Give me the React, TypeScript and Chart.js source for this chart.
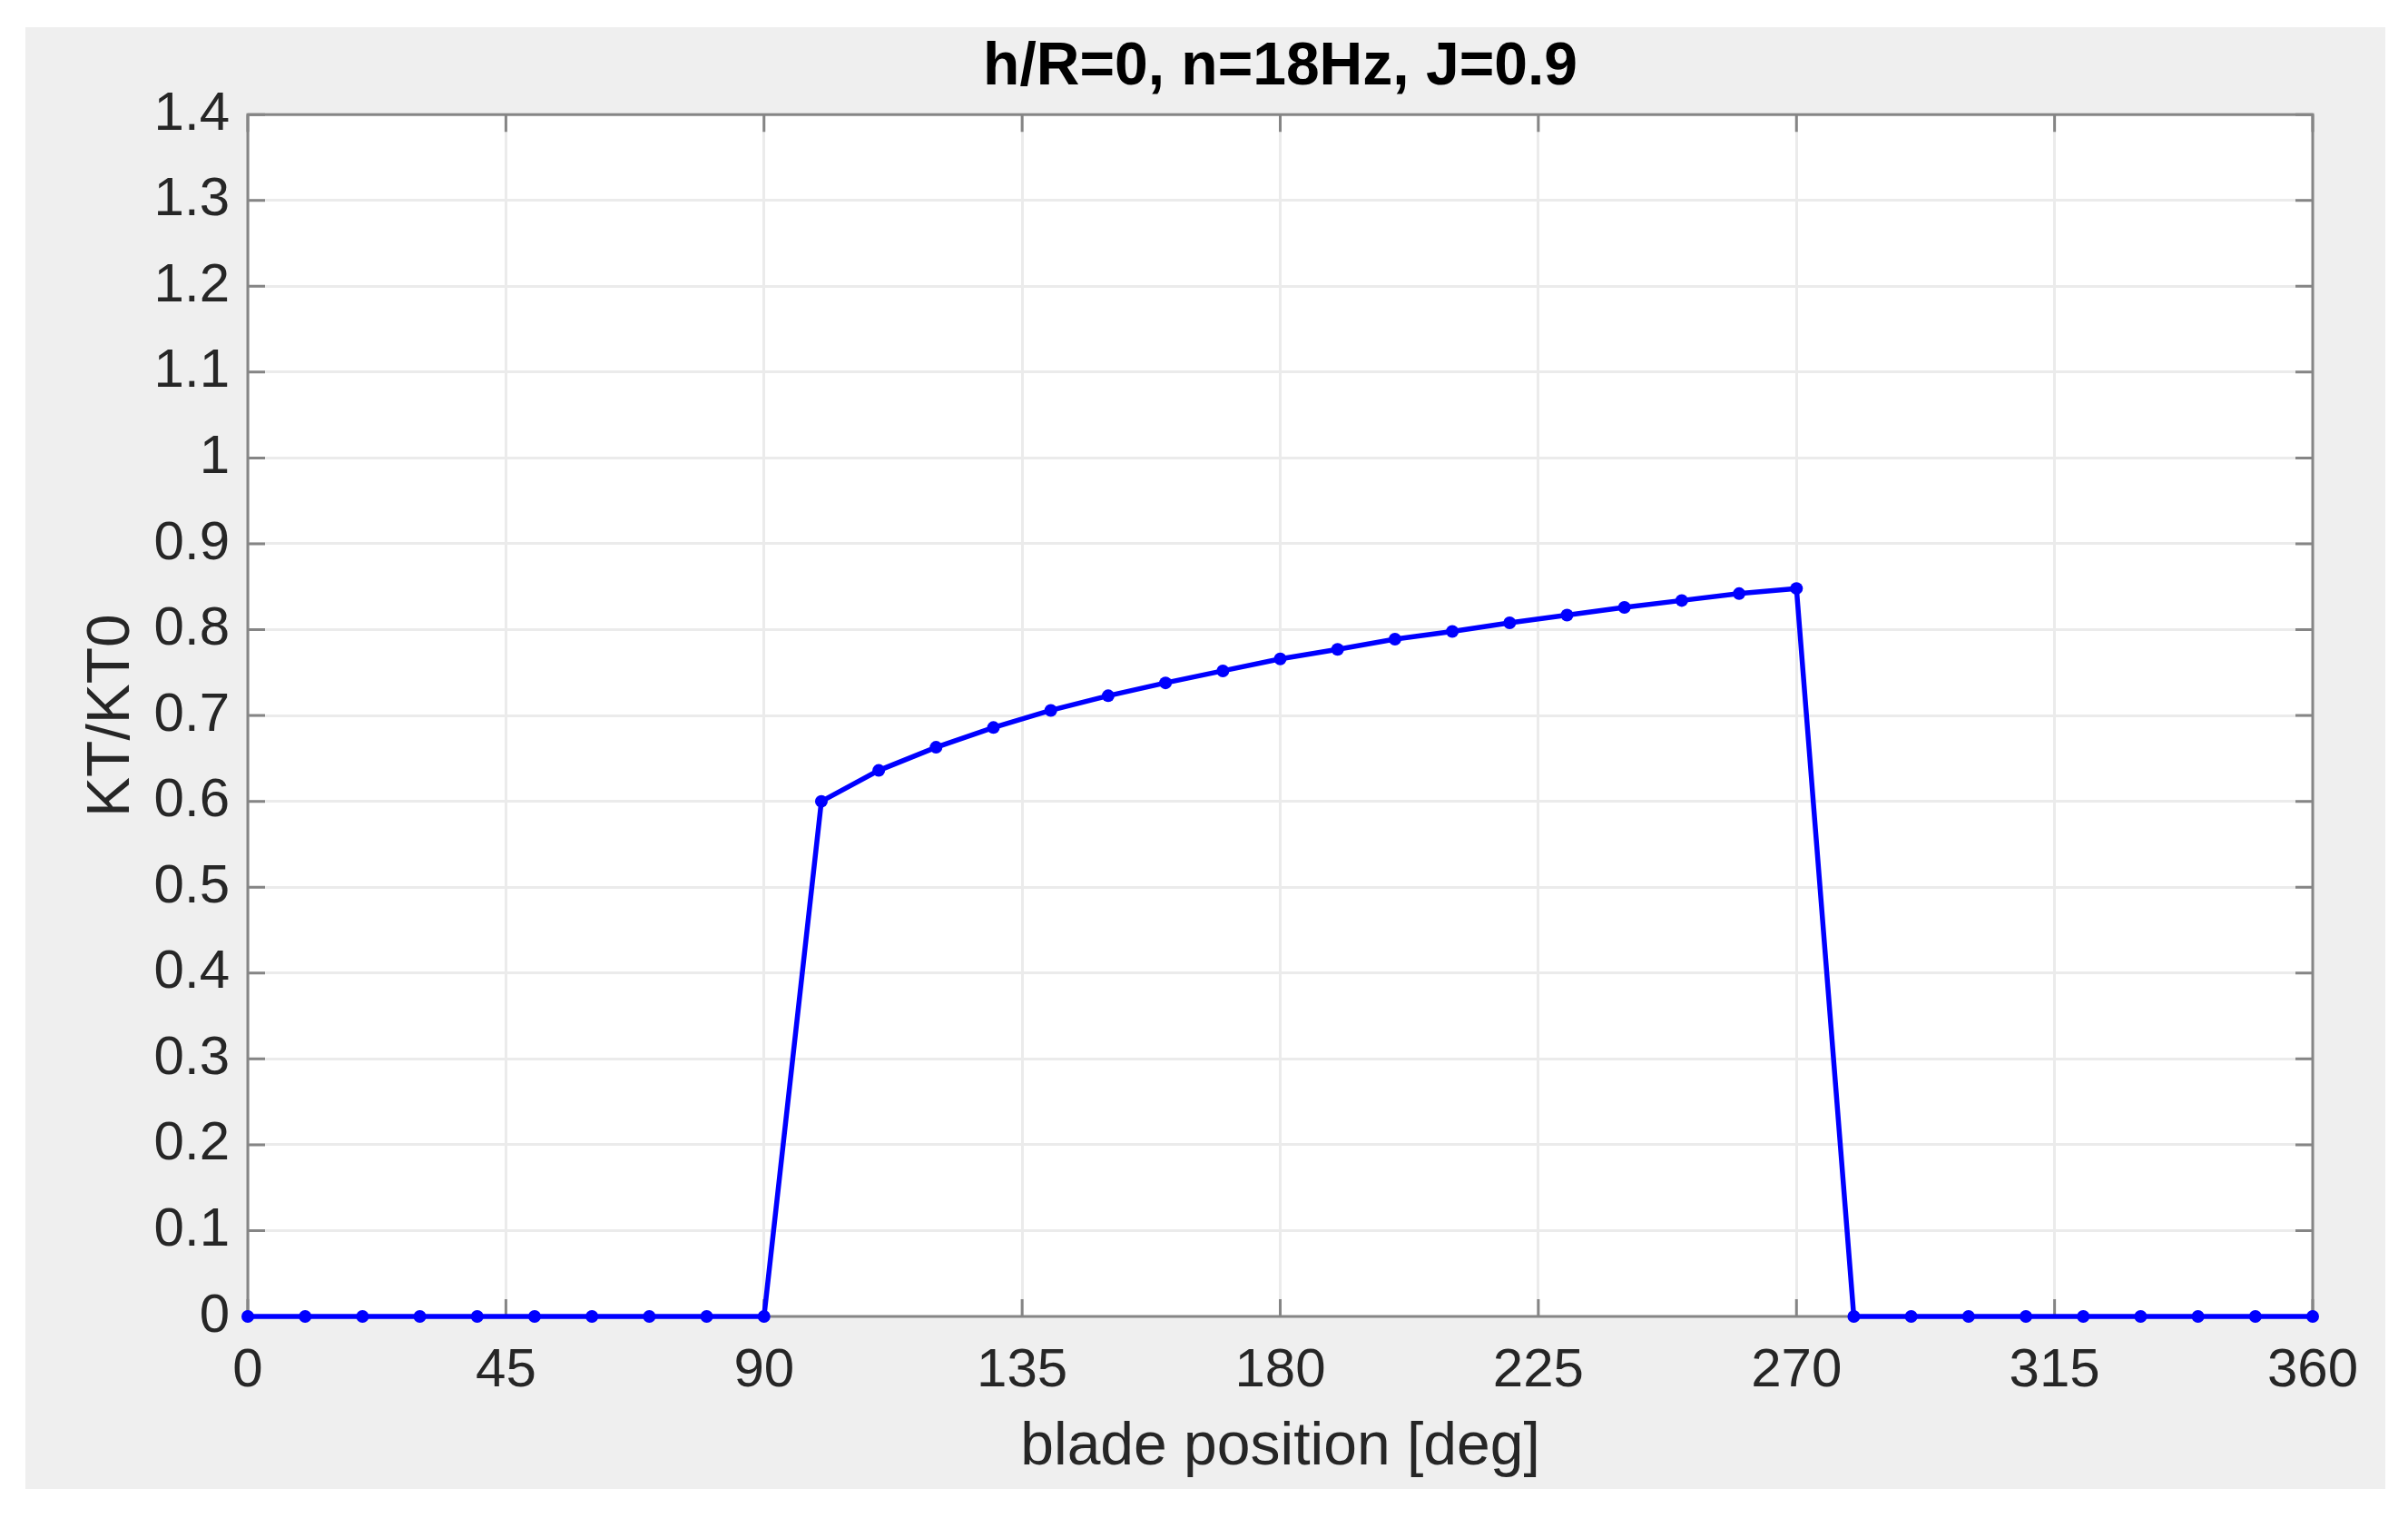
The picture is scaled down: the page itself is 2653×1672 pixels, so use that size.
import React, { useEffect, useRef } from "react";
import { Chart, registerables } from "chart.js";

Chart.register(...registerables);

// ---- data ----
const chartTitle = "h/R=0, n=18Hz, J=0.9";
const xAxisTitle = "blade position [deg]";
const yAxisTitle = "KT/KT0";

const bladePositionDeg = [
  0, 10, 20, 30, 40, 50, 60, 70, 80, 90,
  100, 110, 120, 130, 140, 150, 160, 170, 180, 190,
  200, 210, 220, 230, 240, 250, 260, 270,
  280, 290, 300, 310, 320, 330, 340, 350, 360,
];
const ktRatio = [
  0, 0, 0, 0, 0, 0, 0, 0, 0, 0,
  0.6, 0.636, 0.663, 0.686, 0.706, 0.723, 0.738, 0.752, 0.766, 0.777,
  0.789, 0.798, 0.808, 0.817, 0.826, 0.834, 0.842, 0.848,
  0, 0, 0, 0, 0, 0, 0, 0, 0,
];
const xTickValues = [0, 45, 90, 135, 180, 225, 270, 315, 360];
const yTickValues = [0, 0.1, 0.2, 0.3, 0.4, 0.5, 0.6, 0.7, 0.8, 0.9, 1, 1.1, 1.2, 1.3, 1.4];

// ---- styles ----
const FONT = "'Liberation Sans', Arial, Helvetica, sans-serif";
const AXIS_COLOR = "#858585";
const GRID_COLOR = "#ebebeb";
const TEXT_COLOR = "#262626";
const LINE_COLOR = "#0000ff";
const TICK_LEN = 19;

const matlabAxesPlugin = {
  id: "matlabAxes",
  beforeDraw(chart: any) {
    const { ctx, chartArea: a } = chart;
    ctx.save();
    ctx.fillStyle = "#ffffff";
    ctx.fillRect(a.left, a.top, a.right - a.left, a.bottom - a.top);
    ctx.restore();
  },
  beforeDatasetsDraw(chart: any) {
    const { ctx, chartArea: a, scales } = chart;
    ctx.save();
    ctx.strokeStyle = AXIS_COLOR;
    ctx.lineWidth = 3;
    ctx.strokeRect(a.left, a.top, a.right - a.left, a.bottom - a.top);
    ctx.beginPath();
    scales.x.ticks.forEach((t: any) => {
      const px = scales.x.getPixelForValue(t.value);
      ctx.moveTo(px, a.bottom);
      ctx.lineTo(px, a.bottom - TICK_LEN);
      ctx.moveTo(px, a.top);
      ctx.lineTo(px, a.top + TICK_LEN);
    });
    scales.y.ticks.forEach((t: any) => {
      const py = scales.y.getPixelForValue(t.value);
      ctx.moveTo(a.left, py);
      ctx.lineTo(a.left + TICK_LEN, py);
      ctx.moveTo(a.right, py);
      ctx.lineTo(a.right - TICK_LEN, py);
    });
    ctx.stroke();
    ctx.restore();
  },
};

export default function App() {
  const canvasRef = useRef<HTMLCanvasElement | null>(null);

  useEffect(() => {
    if (!canvasRef.current) return;
    const points = bladePositionDeg.map((x, i) => ({ x, y: ktRatio[i] }));
    const chart = new Chart(canvasRef.current, {
      type: "line",
      data: {
        datasets: [
          {
            data: points,
            borderColor: LINE_COLOR,
            backgroundColor: LINE_COLOR,
            borderWidth: 5.5,
            pointRadius: 7,
            pointBorderWidth: 0,
            pointBackgroundColor: LINE_COLOR,
            pointStyle: "circle",
            tension: 0,
            fill: false,
            clip: false,
          } as any,
        ],
      },
      options: {
        animation: false,
        responsive: false,
        maintainAspectRatio: false,
        devicePixelRatio: 1,
        layout: { padding: { left: 0, right: 80, top: 0, bottom: 0 } },
        plugins: {
          legend: { display: false },
          tooltip: { enabled: false },
          title: {
            display: true,
            fullSize: false,
            text: chartTitle,
            color: "#000000",
            font: { family: FONT, size: 66, weight: "bold" },
            padding: { top: 5, bottom: 12 },
          },
        },
        scales: {
          x: {
            type: "linear",
            min: 0,
            max: 360,
            afterBuildTicks: (scale: any) => {
              scale.ticks = xTickValues.map((v) => ({ value: v }));
            },
            afterFit: (scale: any) => {
              scale.height = 190;
            },
            ticks: {
              color: TEXT_COLOR,
              font: { family: FONT, size: 60 },
              padding: 24,
              maxRotation: 0,
              autoSkip: false,
              callback: (v: any) => String(v),
            },
            grid: { color: GRID_COLOR, lineWidth: 3, drawTicks: false },
            border: { display: false },
            title: {
              display: true,
              text: xAxisTitle,
              color: TEXT_COLOR,
              font: { family: FONT, size: 66 },
              padding: { top: 0, bottom: 6 },
            },
          },
          y: {
            type: "linear",
            min: 0,
            max: 1.4,
            afterBuildTicks: (scale: any) => {
              scale.ticks = yTickValues.map((v) => ({ value: v }));
            },
            afterFit: (scale: any) => {
              scale.width = 245;
            },
            ticks: {
              color: TEXT_COLOR,
              font: { family: FONT, size: 60 },
              padding: 20,
              autoSkip: false,
              callback: (v: any) => String(Number(Number(v).toFixed(1))),
            },
            grid: { color: GRID_COLOR, lineWidth: 3, drawTicks: false },
            border: { display: false },
            title: {
              display: true,
              text: yAxisTitle,
              color: TEXT_COLOR,
              font: { family: FONT, size: 66 },
              padding: { top: 56, bottom: 0 },
            },
          },
        },
      },
      plugins: [matlabAxesPlugin],
    } as any);
    return () => chart.destroy();
  }, []);

  return (
    <div
      style={{
        position: "absolute",
        left: 28,
        top: 30,
        width: 2600,
        height: 1610,
        background: "#efefef",
      }}
    >
      <canvas ref={canvasRef} width={2600} height={1610} style={{ display: "block" }} />
    </div>
  );
}
